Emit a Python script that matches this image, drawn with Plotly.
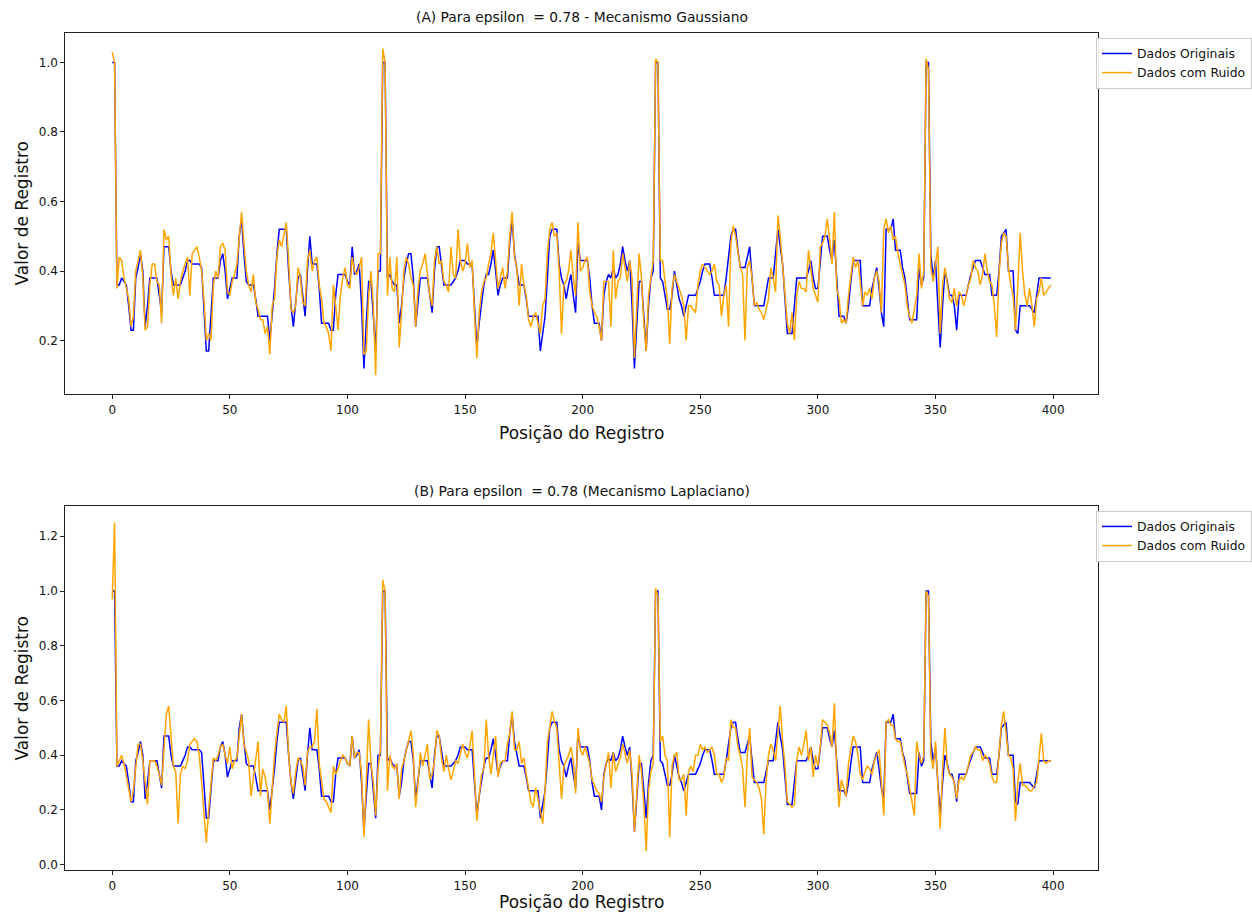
import plotly.graph_objects as go

# ---- data ----
posicao = list(range(400))

dados_originais = [
    1.0, 1.0, 0.36, 0.36, 0.38, 0.37, 0.36, 0.30, 0.23, 0.23,
    0.38, 0.41, 0.45, 0.40, 0.24, 0.30, 0.38, 0.38, 0.38, 0.38,
    0.33, 0.28, 0.47, 0.47, 0.47, 0.40, 0.36, 0.36, 0.36, 0.36,
    0.38, 0.40, 0.43, 0.43, 0.42, 0.42, 0.42, 0.42, 0.41, 0.30,
    0.17, 0.17, 0.28, 0.38, 0.38, 0.38, 0.43, 0.45, 0.40, 0.32,
    0.35, 0.38, 0.38, 0.38, 0.50, 0.55, 0.45, 0.37, 0.36, 0.36,
    0.36, 0.32, 0.27, 0.27, 0.27, 0.27, 0.27, 0.20, 0.27, 0.35,
    0.45, 0.52, 0.52, 0.52, 0.52, 0.40, 0.30, 0.24, 0.32, 0.38,
    0.39, 0.33, 0.27, 0.40, 0.50, 0.42, 0.42, 0.42, 0.35, 0.25,
    0.25, 0.25, 0.25, 0.23, 0.23, 0.33, 0.39, 0.39, 0.39, 0.39,
    0.37, 0.36, 0.47, 0.39, 0.40, 0.42, 0.30, 0.12, 0.25, 0.37,
    0.37, 0.28, 0.17, 0.40, 0.40, 1.0, 1.0, 0.38, 0.39, 0.37,
    0.36, 0.36, 0.25, 0.30, 0.38, 0.42, 0.45, 0.45, 0.38, 0.24,
    0.32, 0.38, 0.38, 0.38, 0.38, 0.33, 0.28, 0.40, 0.47, 0.47,
    0.42, 0.36, 0.36, 0.36, 0.36, 0.37, 0.38, 0.40, 0.43, 0.43,
    0.43, 0.42, 0.42, 0.42, 0.30, 0.18, 0.25, 0.30, 0.36, 0.39,
    0.39, 0.42, 0.46, 0.40, 0.33, 0.36, 0.38, 0.38, 0.38, 0.48,
    0.55, 0.45, 0.40, 0.36, 0.36, 0.36, 0.32, 0.27, 0.27, 0.27,
    0.27, 0.27, 0.17, 0.22, 0.27, 0.38, 0.50, 0.52, 0.52, 0.52,
    0.42, 0.38, 0.36, 0.32, 0.36, 0.39, 0.33, 0.28, 0.48, 0.43,
    0.43, 0.43, 0.43, 0.38, 0.30, 0.25, 0.25, 0.25, 0.20, 0.33,
    0.37, 0.39, 0.38, 0.41, 0.38, 0.39, 0.42, 0.47, 0.43, 0.40,
    0.43, 0.30, 0.12, 0.25, 0.37, 0.37, 0.28, 0.17, 0.30, 0.38,
    0.40, 1.0, 1.0, 0.38, 0.37, 0.33, 0.29, 0.29, 0.33, 0.40,
    0.36, 0.32, 0.30, 0.27, 0.30, 0.33, 0.33, 0.33, 0.33, 0.35,
    0.37, 0.40, 0.42, 0.42, 0.42, 0.38, 0.33, 0.33, 0.33, 0.33,
    0.33, 0.38, 0.45, 0.50, 0.52, 0.52, 0.46, 0.41, 0.41, 0.41,
    0.44, 0.47, 0.38, 0.30, 0.30, 0.30, 0.30, 0.30, 0.34, 0.38,
    0.38, 0.38, 0.45, 0.52, 0.47, 0.42, 0.32, 0.22, 0.22, 0.22,
    0.30, 0.38, 0.38, 0.38, 0.38, 0.38, 0.40, 0.43, 0.38, 0.35,
    0.35, 0.42, 0.50, 0.50, 0.50, 0.46, 0.43, 0.49, 0.38, 0.27,
    0.27, 0.27, 0.25, 0.30, 0.37, 0.43, 0.43, 0.43, 0.43, 0.30,
    0.30, 0.30, 0.30, 0.35, 0.38, 0.41, 0.35, 0.28, 0.24, 0.52,
    0.52, 0.52, 0.55, 0.46, 0.46, 0.46, 0.41, 0.38, 0.32, 0.26,
    0.26, 0.26, 0.26, 0.41, 0.36, 0.38, 1.0, 1.0, 0.45, 0.38,
    0.43, 0.30, 0.18, 0.30, 0.40, 0.37, 0.33, 0.33, 0.30, 0.23,
    0.33, 0.33, 0.33, 0.33, 0.36, 0.39, 0.41, 0.43, 0.43, 0.43,
    0.41, 0.39, 0.39, 0.39, 0.33, 0.33, 0.33, 0.40, 0.50, 0.51,
    0.52, 0.40, 0.40, 0.40, 0.23, 0.22, 0.30, 0.30, 0.30, 0.30,
    0.30, 0.29, 0.28, 0.33, 0.38, 0.38, 0.38, 0.38, 0.38, 0.38,
]

ruido_gaussiano = [
    1.03, 1.0, 0.35, 0.44, 0.43, 0.38, 0.35, 0.32, 0.24, 0.27,
    0.40, 0.43, 0.46, 0.38, 0.23, 0.24, 0.36, 0.42, 0.42, 0.37,
    0.36, 0.25, 0.52, 0.49, 0.50, 0.39, 0.33, 0.38, 0.32, 0.37,
    0.40, 0.42, 0.44, 0.33, 0.45, 0.46, 0.47, 0.44, 0.40, 0.32,
    0.20, 0.22, 0.20, 0.36, 0.40, 0.38, 0.47, 0.48, 0.46, 0.34,
    0.33, 0.37, 0.39, 0.42, 0.50, 0.57, 0.48, 0.40, 0.36, 0.34,
    0.39, 0.31, 0.29, 0.26, 0.26, 0.22, 0.24, 0.16, 0.30, 0.32,
    0.44, 0.49, 0.47, 0.51, 0.54, 0.43, 0.29, 0.28, 0.30, 0.41,
    0.38, 0.31, 0.30, 0.43, 0.46, 0.40, 0.43, 0.44, 0.36, 0.32,
    0.25, 0.24, 0.22, 0.17, 0.36, 0.30, 0.23, 0.33, 0.38, 0.41,
    0.36, 0.35, 0.44, 0.40, 0.39, 0.41, 0.44, 0.16, 0.17, 0.33,
    0.40, 0.30, 0.10, 0.45, 0.45, 1.04, 1.0, 0.33, 0.44, 0.35,
    0.34, 0.44, 0.18, 0.28, 0.40, 0.44, 0.42, 0.38, 0.36, 0.24,
    0.35, 0.40, 0.42, 0.45, 0.39, 0.33, 0.30, 0.43, 0.47, 0.42,
    0.43, 0.37, 0.36, 0.34, 0.47, 0.39, 0.38, 0.52, 0.43, 0.40,
    0.42, 0.48, 0.41, 0.43, 0.28, 0.15, 0.28, 0.34, 0.37, 0.38,
    0.42, 0.45, 0.51, 0.42, 0.35, 0.38, 0.41, 0.35, 0.40, 0.50,
    0.57, 0.44, 0.41, 0.30, 0.42, 0.36, 0.33, 0.26, 0.24, 0.27,
    0.28, 0.25, 0.22, 0.30, 0.32, 0.45, 0.52, 0.54, 0.50, 0.51,
    0.40, 0.22, 0.36, 0.37, 0.40, 0.46, 0.38, 0.33, 0.54, 0.40,
    0.41, 0.43, 0.44, 0.34, 0.30, 0.28, 0.27, 0.24, 0.20, 0.37,
    0.37, 0.37, 0.24, 0.46, 0.32, 0.37, 0.38, 0.45, 0.41, 0.37,
    0.43, 0.38, 0.15, 0.30, 0.45, 0.38, 0.25, 0.17, 0.33, 0.38,
    0.43, 1.01, 1.0, 0.43, 0.43, 0.37, 0.32, 0.19, 0.35, 0.39,
    0.37, 0.35, 0.33, 0.30, 0.20, 0.30, 0.30, 0.29, 0.28, 0.36,
    0.40, 0.42, 0.41, 0.40, 0.39, 0.40, 0.42, 0.37, 0.36, 0.27,
    0.33, 0.36, 0.24, 0.48, 0.53, 0.50, 0.46, 0.41, 0.39, 0.20,
    0.41, 0.43, 0.38, 0.30, 0.31, 0.29, 0.28, 0.26, 0.29, 0.32,
    0.41, 0.38, 0.34, 0.56, 0.50, 0.41, 0.34, 0.25, 0.22, 0.28,
    0.20, 0.33, 0.37, 0.35, 0.35, 0.34, 0.46, 0.40, 0.35, 0.33,
    0.31, 0.47, 0.48, 0.50, 0.55, 0.49, 0.42, 0.57, 0.35, 0.32,
    0.25, 0.26, 0.25, 0.33, 0.39, 0.44, 0.41, 0.43, 0.37, 0.30,
    0.34, 0.33, 0.35, 0.32, 0.38, 0.40, 0.37, 0.28, 0.52, 0.55,
    0.51, 0.53, 0.49, 0.50, 0.45, 0.42, 0.39, 0.36, 0.30, 0.27,
    0.25, 0.29, 0.33, 0.45, 0.35, 0.40, 1.01, 0.98, 0.41, 0.37,
    0.42, 0.47, 0.22, 0.36, 0.41, 0.36, 0.32, 0.31, 0.35, 0.30,
    0.34, 0.33, 0.30, 0.33, 0.36, 0.38, 0.43, 0.41, 0.40, 0.36,
    0.39, 0.45, 0.40, 0.37, 0.36, 0.30, 0.21, 0.39, 0.48, 0.51,
    0.50, 0.41, 0.36, 0.33, 0.23, 0.36, 0.51, 0.40, 0.33, 0.30,
    0.35, 0.30, 0.24, 0.32, 0.34, 0.38, 0.33, 0.34, 0.35, 0.36,
]

ruido_laplaciano = [
    0.97, 1.25, 0.36, 0.38, 0.40, 0.37, 0.32, 0.28, 0.23, 0.27,
    0.35, 0.44, 0.44, 0.38, 0.30, 0.22, 0.38, 0.38, 0.38, 0.36,
    0.33, 0.29, 0.44, 0.55, 0.58, 0.48, 0.36, 0.34, 0.15, 0.33,
    0.36, 0.35, 0.38, 0.44, 0.45, 0.46, 0.45, 0.40, 0.30, 0.20,
    0.08, 0.20, 0.30, 0.39, 0.38, 0.40, 0.43, 0.44, 0.40, 0.37,
    0.43, 0.35, 0.38, 0.39, 0.47, 0.55, 0.44, 0.41, 0.38, 0.25,
    0.32, 0.40, 0.45, 0.25, 0.35, 0.32, 0.27, 0.15, 0.28, 0.40,
    0.48, 0.55, 0.53, 0.52, 0.58, 0.40, 0.30, 0.26, 0.34, 0.39,
    0.38, 0.36, 0.29, 0.41, 0.43, 0.43, 0.45, 0.57, 0.37, 0.31,
    0.24, 0.23, 0.21, 0.19, 0.36, 0.33, 0.35, 0.38, 0.40, 0.39,
    0.37, 0.36, 0.47, 0.39, 0.41, 0.41, 0.33, 0.10, 0.30, 0.53,
    0.37, 0.30, 0.18, 0.35, 0.42, 1.04, 1.0, 0.27, 0.40, 0.36,
    0.35, 0.37, 0.24, 0.35, 0.38, 0.42, 0.45, 0.49, 0.40, 0.21,
    0.30, 0.41, 0.36, 0.40, 0.44, 0.31, 0.33, 0.38, 0.49, 0.47,
    0.39, 0.34, 0.40, 0.35, 0.31, 0.34, 0.38, 0.37, 0.41, 0.44,
    0.41, 0.39, 0.43, 0.49, 0.33, 0.16, 0.25, 0.33, 0.35, 0.53,
    0.40, 0.33, 0.40, 0.47, 0.32, 0.37, 0.38, 0.38, 0.44, 0.48,
    0.56, 0.42, 0.42, 0.45, 0.37, 0.39, 0.33, 0.28, 0.23, 0.21,
    0.28, 0.24, 0.20, 0.15, 0.27, 0.45, 0.50, 0.56, 0.52, 0.50,
    0.37, 0.24, 0.36, 0.38, 0.40, 0.43, 0.38, 0.26, 0.50, 0.42,
    0.40, 0.43, 0.40, 0.37, 0.31, 0.29, 0.27, 0.26, 0.23, 0.32,
    0.37, 0.41, 0.28, 0.41, 0.34, 0.37, 0.39, 0.44, 0.40, 0.37,
    0.42, 0.33, 0.12, 0.27, 0.40, 0.34, 0.22, 0.05, 0.27, 0.34,
    0.37, 1.01, 0.98, 0.45, 0.47, 0.40, 0.38, 0.10, 0.36, 0.40,
    0.41, 0.31, 0.31, 0.33, 0.18, 0.34, 0.36, 0.34, 0.40, 0.40,
    0.44, 0.42, 0.43, 0.41, 0.42, 0.43, 0.40, 0.33, 0.33, 0.30,
    0.32, 0.39, 0.38, 0.53, 0.50, 0.50, 0.43, 0.40, 0.35, 0.21,
    0.40, 0.50, 0.32, 0.31, 0.30, 0.28, 0.24, 0.11, 0.31, 0.40,
    0.44, 0.42, 0.38, 0.48, 0.58, 0.45, 0.36, 0.23, 0.22, 0.21,
    0.22, 0.38, 0.43, 0.40, 0.44, 0.49, 0.38, 0.43, 0.32, 0.40,
    0.36, 0.43, 0.53, 0.52, 0.51, 0.48, 0.43, 0.59, 0.35, 0.21,
    0.31, 0.28, 0.25, 0.37, 0.42, 0.47, 0.45, 0.40, 0.33, 0.31,
    0.34, 0.36, 0.35, 0.33, 0.38, 0.40, 0.42, 0.30, 0.18, 0.52,
    0.53, 0.51, 0.51, 0.46, 0.45, 0.45, 0.40, 0.36, 0.33, 0.28,
    0.23, 0.18, 0.45, 0.40, 0.37, 0.40, 1.0, 0.98, 0.40, 0.35,
    0.45, 0.30, 0.13, 0.35, 0.50, 0.36, 0.33, 0.32, 0.30, 0.24,
    0.31, 0.32, 0.31, 0.33, 0.37, 0.40, 0.41, 0.43, 0.42, 0.42,
    0.38, 0.40, 0.39, 0.37, 0.32, 0.30, 0.30, 0.40, 0.51, 0.56,
    0.48, 0.40, 0.39, 0.35, 0.16, 0.30, 0.37, 0.29, 0.29, 0.28,
    0.27, 0.27, 0.29, 0.30, 0.40, 0.48, 0.38, 0.37, 0.38, 0.38,
]

titulo_a = "(A) Para epsilon\u00a0 = 0.78 - Mecanismo Gaussiano"
titulo_b = "(B) Para epsilon\u00a0 = 0.78 (Mecanismo Laplaciano)"
nome_original = "Dados Originais"
nome_ruido = "Dados com Ruido"
rotulo_x = "Posição do Registro"
rotulo_y = "Valor de Registro"
x_ticks = [0, 50, 100, 150, 200, 250, 300, 350, 400]
y_ticks_a = [0.2, 0.4, 0.6, 0.8, 1.0]
y_ticks_b = [0.0, 0.2, 0.4, 0.6, 0.8, 1.0, 1.2]

W, H = 1252, 918
FONT = "DejaVu Sans"
BLUE = "#0000ff"
ORANGE = "#ffa500"
TXT = "#111111"

fig = go.Figure()

fig.add_trace(go.Scatter(x=posicao, y=dados_originais, mode="lines", name=nome_original,
                         line=dict(color=BLUE, width=1.5), xaxis="x", yaxis="y", legend="legend"))
fig.add_trace(go.Scatter(x=posicao, y=ruido_gaussiano, mode="lines", name=nome_ruido,
                         line=dict(color=ORANGE, width=1.5), xaxis="x", yaxis="y", legend="legend"))
fig.add_trace(go.Scatter(x=posicao, y=dados_originais, mode="lines", name=nome_original,
                         line=dict(color=BLUE, width=1.5), xaxis="x2", yaxis="y2", legend="legend2"))
fig.add_trace(go.Scatter(x=posicao, y=ruido_laplaciano, mode="lines", name=nome_ruido,
                         line=dict(color=ORANGE, width=1.5), xaxis="x2", yaxis="y2", legend="legend2"))

x_dom = [65.3 / W, 1097.7 / W]
y_dom_a = [1 - 395.3 / H, 1 - 33 / H]
y_dom_b = [1 - 872 / H, 1 - 507.3 / H]

axis_common = dict(showline=True, linecolor="#222", linewidth=1, mirror=True,
                   ticks="outside", ticklen=4, tickwidth=1, tickcolor="#222",
                   showgrid=False, zeroline=False,
                   tickfont=dict(family=FONT, size=12, color=TXT))

legend_common = dict(xanchor="left", yanchor="top",
                     bgcolor="rgba(255,255,255,0.9)", bordercolor="#cccccc", borderwidth=1,
                     font=dict(family=FONT, size=12.4, color=TXT), tracegroupgap=0)

fig.update_layout(
    width=W, height=H,
    margin=dict(l=0, r=0, t=0, b=0),
    paper_bgcolor="white", plot_bgcolor="white",
    font=dict(family=FONT, color=TXT),
    xaxis=dict(domain=x_dom, range=[-19.95, 418.95], tickvals=x_ticks, anchor="y", **axis_common),
    yaxis=dict(domain=y_dom_a, range=[0.045, 1.085], tickvals=y_ticks_a, tickformat=".1f",
               anchor="x", **axis_common),
    xaxis2=dict(domain=x_dom, range=[-19.95, 418.95], tickvals=x_ticks, anchor="y2", **axis_common),
    yaxis2=dict(domain=y_dom_b, range=[-0.02, 1.31], tickvals=y_ticks_b, tickformat=".1f",
                anchor="x2", **axis_common),
    legend=dict(x=1096 / W, y=1 - 38 / H, **legend_common),
    legend2=dict(x=1096 / W, y=1 - 512 / H, **legend_common),
    showlegend=True,
    annotations=[
        dict(text=titulo_a, x=581.5 / W, y=1 - 17 / H, xref="paper", yref="paper",
             xanchor="center", yanchor="middle", showarrow=False,
             font=dict(family=FONT, size=13.8, color=TXT)),
        dict(text=titulo_b, x=581.5 / W, y=1 - 492 / H, xref="paper", yref="paper",
             xanchor="center", yanchor="middle", showarrow=False,
             font=dict(family=FONT, size=13.8, color=TXT)),
        dict(text=rotulo_x, x=581.5 / W, y=1 - 434 / H, xref="paper", yref="paper",
             xanchor="center", yanchor="middle", showarrow=False,
             font=dict(family=FONT, size=17, color=TXT)),
        dict(text=rotulo_x, x=581.5 / W, y=1 - 904 / H, xref="paper", yref="paper",
             xanchor="center", yanchor="middle", showarrow=False,
             font=dict(family=FONT, size=17, color=TXT)),
        dict(text=rotulo_y, x=22 / W, y=1 - 214 / H, xref="paper", yref="paper",
             xanchor="center", yanchor="middle", showarrow=False, textangle=-90,
             font=dict(family=FONT, size=17, color=TXT)),
        dict(text=rotulo_y, x=22 / W, y=1 - 690 / H, xref="paper", yref="paper",
             xanchor="center", yanchor="middle", showarrow=False, textangle=-90,
             font=dict(family=FONT, size=17, color=TXT)),
    ],
)

# remove the page's default body margin so the figure sits at the window's top-left corner
fig.write_html("out.html",
               config={"displayModeBar": False},
               post_script="document.body.style.margin='0px';document.body.style.overflow='hidden';")
